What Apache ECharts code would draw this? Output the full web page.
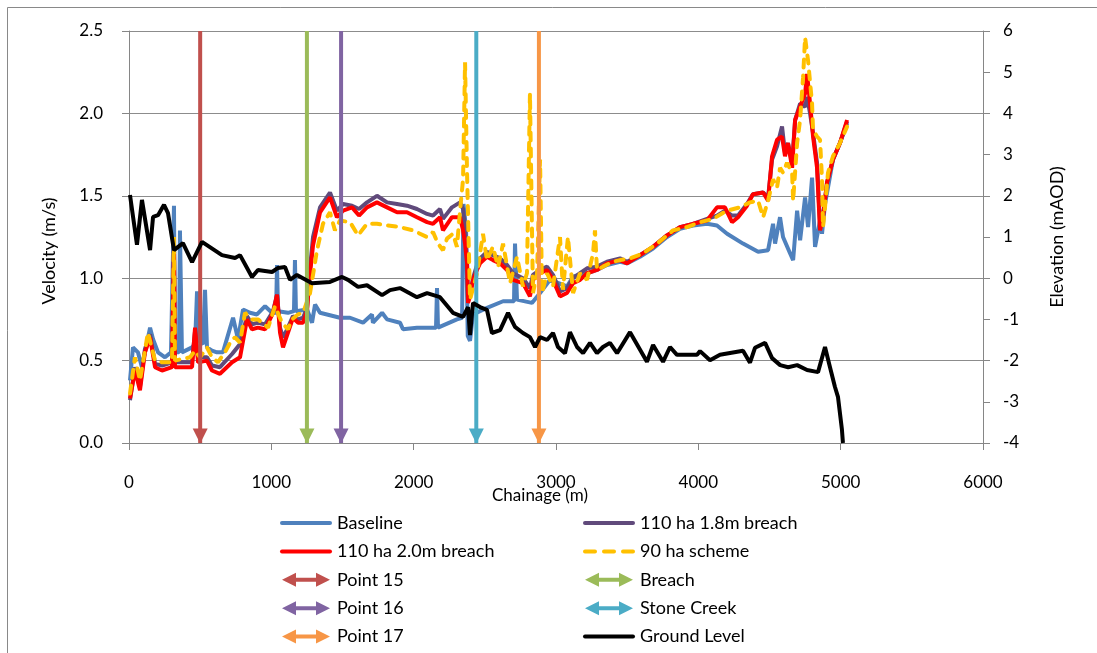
<!DOCTYPE html>
<html><head><meta charset="utf-8">
<script src="https://cdn.jsdelivr.net/npm/echarts@6/dist/echarts.min.js"></script>
<style>html,body{margin:0;padding:0;background:#fff}#c{width:1097px;height:653px}</style>
</head><body><div id="c"></div>
<script>
// ---- data (chainage m, value) ----
const baseline = [[7,0.38],[28,0.58],[63,0.55],[91,0.46],[148,0.70],[169,0.63],[204,0.55],[253,0.52],[295,0.55],[309,0.55],[316,1.44],[323,0.55],[351,0.55],[358,1.29],[372,0.55],[443,0.58],[464,0.60],[478,0.92],[492,0.62],[520,0.60],[534,0.93],[548,0.58],[583,0.56],[618,0.55],[660,0.55],[731,0.76],[766,0.63],[801,0.81],[850,0.79],[899,0.78],[956,0.83],[1005,0.79],[1033,0.79],[1040,1.08],[1047,0.80],[1117,0.79],[1159,0.80],[1166,1.11],[1173,0.80],[1251,0.81],[1286,0.73],[1307,0.84],[1342,0.79],[1391,0.78],[1482,0.76],[1553,0.76],[1644,0.73],[1707,0.78],[1714,0.73],[1778,0.79],[1813,0.75],[1904,0.73],[1925,0.69],[2023,0.70],[2094,0.70],[2157,0.70],[2164,0.94],[2171,0.70],[2304,0.75],[2340,0.76],[2350,1.45],[2368,1.30],[2380,0.65],[2396,0.62],[2417,0.78],[2515,0.82],[2628,0.86],[2705,0.86],[2712,1.21],[2726,0.87],[2831,0.85],[2888,0.91],[2958,0.99],[3077,0.95],[3120,1.01],[3218,1.03],[3288,1.05],[3358,1.08],[3450,1.10],[3499,1.09],[3590,1.13],[3682,1.18],[3780,1.25],[3871,1.30],[3963,1.32],[4061,1.33],[4131,1.32],[4202,1.27],[4314,1.21],[4420,1.16],[4490,1.17],[4525,1.33],[4539,1.21],[4574,1.37],[4595,1.25],[4645,1.15],[4666,1.11],[4694,1.41],[4715,1.23],[4750,1.49],[4771,1.31],[4799,1.61],[4820,1.19],[4855,1.35],[4869,1.27],[4890,1.45],[4946,1.72],[4995,1.82],[5045,1.94]];

const breach18 = [[7,0.26],[42,0.46],[77,0.34],[112,0.57],[148,0.66],[183,0.48],[232,0.47],[302,0.49],[309,0.49],[316,1.20],[323,0.49],[443,0.49],[464,0.68],[485,0.52],[548,0.52],[583,0.47],[639,0.46],[724,0.54],[780,0.60],[829,0.77],[864,0.72],[906,0.73],[956,0.72],[1012,0.80],[1040,0.90],[1061,0.70],[1082,0.64],[1117,0.70],[1152,0.77],[1187,0.75],[1223,0.76],[1251,0.82],[1265,1.00],[1293,1.25],[1342,1.43],[1412,1.52],[1461,1.41],[1504,1.45],[1567,1.44],[1616,1.42],[1672,1.46],[1742,1.50],[1813,1.46],[1883,1.45],[1953,1.44],[2023,1.42],[2094,1.39],[2136,1.38],[2185,1.42],[2206,1.36],[2269,1.43],[2326,1.46],[2347,1.42],[2361,1.30],[2375,1.10],[2382,0.88],[2396,0.90],[2417,1.00],[2445,1.08],[2466,1.12],[2515,1.16],[2557,1.14],[2607,1.12],[2656,1.08],[2698,1.03],[2768,1.00],[2817,0.94],[2838,1.02],[2888,1.05],[2937,1.07],[2979,1.02],[3028,0.92],[3077,0.94],[3120,1.00],[3169,1.03],[3218,1.06],[3288,1.07],[3358,1.10],[3450,1.12],[3499,1.10],[3590,1.14],[3682,1.19],[3780,1.26],[3871,1.31],[3963,1.33],[4061,1.36],[4131,1.38],[4187,1.41],[4237,1.38],[4279,1.38],[4342,1.45],[4384,1.51],[4455,1.52],[4490,1.49],[4518,1.72],[4553,1.80],[4588,1.92],[4609,1.76],[4630,1.82],[4659,1.70],[4680,1.96],[4715,2.06],[4750,2.04],[4764,2.10],[4785,2.00],[4806,1.88],[4834,1.70],[4855,1.32],[4876,1.38],[4904,1.58],[4946,1.72],[4995,1.82],[5045,1.95]];

const breach20 = [[7,0.27],[42,0.44],[77,0.32],[112,0.55],[148,0.64],[183,0.46],[232,0.44],[302,0.46],[309,0.46],[316,1.19],[323,0.46],[443,0.46],[464,0.70],[485,0.49],[548,0.50],[583,0.44],[639,0.42],[724,0.49],[780,0.52],[829,0.75],[864,0.69],[906,0.70],[956,0.69],[1012,0.79],[1040,0.90],[1061,0.67],[1082,0.58],[1117,0.67],[1152,0.76],[1187,0.73],[1223,0.73],[1251,0.80],[1265,0.97],[1293,1.20],[1342,1.40],[1412,1.49],[1461,1.37],[1504,1.41],[1567,1.43],[1616,1.38],[1672,1.43],[1742,1.46],[1813,1.43],[1883,1.40],[1953,1.40],[2023,1.37],[2094,1.34],[2136,1.33],[2185,1.37],[2206,1.29],[2269,1.37],[2326,1.37],[2347,1.29],[2361,1.21],[2375,1.09],[2382,0.85],[2396,0.89],[2417,0.99],[2445,1.05],[2466,1.09],[2515,1.13],[2557,1.11],[2607,1.09],[2656,1.05],[2698,0.99],[2768,0.97],[2817,0.89],[2838,0.99],[2888,1.03],[2937,1.05],[2979,0.99],[3028,0.89],[3077,0.91],[3120,0.97],[3169,0.99],[3218,1.03],[3288,1.05],[3358,1.09],[3450,1.11],[3499,1.09],[3590,1.14],[3682,1.19],[3780,1.26],[3871,1.31],[3963,1.33],[4061,1.35],[4131,1.43],[4187,1.43],[4237,1.34],[4279,1.37],[4342,1.44],[4384,1.51],[4455,1.52],[4490,1.47],[4518,1.74],[4553,1.84],[4588,1.86],[4609,1.74],[4630,1.82],[4659,1.67],[4680,1.96],[4715,2.04],[4750,2.12],[4764,2.24],[4785,2.06],[4806,1.86],[4834,1.67],[4855,1.29],[4876,1.37],[4904,1.58],[4946,1.72],[4995,1.82],[5045,1.96]];

const scheme90 = [[7,0.30],[42,0.52],[77,0.38],[133,0.67],[183,0.50],[232,0.49],[302,0.49],[309,0.49],[316,1.25],[323,0.50],[429,0.52],[464,0.56],[499,0.52],[548,0.58],[583,0.52],[625,0.49],[674,0.55],[724,0.63],[745,0.64],[780,0.61],[815,0.79],[864,0.75],[906,0.75],[977,0.70],[1026,0.83],[1075,0.73],[1117,0.69],[1145,0.75],[1187,0.78],[1223,0.79],[1272,0.91],[1321,1.17],[1363,1.33],[1412,1.40],[1447,1.29],[1482,1.35],[1553,1.34],[1609,1.26],[1672,1.33],[1742,1.33],[1813,1.32],[1904,1.31],[1995,1.29],[2094,1.25],[2136,1.28],[2171,1.21],[2206,1.17],[2234,1.24],[2276,1.27],[2304,1.19],[2326,1.41],[2347,1.60],[2361,2.31],[2375,1.64],[2396,0.87],[2445,1.03],[2487,1.27],[2515,1.11],[2557,1.19],[2593,1.07],[2628,1.21],[2677,0.97],[2726,1.13],[2768,0.95],[2796,1.03],[2817,2.12],[2838,0.91],[2867,1.03],[2888,1.72],[2902,0.91],[2937,1.03],[2979,0.95],[3028,1.25],[3049,0.93],[3084,1.25],[3120,0.91],[3169,1.03],[3218,0.99],[3260,1.15],[3274,1.29],[3288,1.05],[3330,1.07],[3401,1.10],[3450,1.11],[3520,1.12],[3611,1.15],[3710,1.21],[3822,1.29],[3920,1.31],[4012,1.34],[4103,1.36],[4202,1.41],[4293,1.43],[4363,1.46],[4420,1.47],[4455,1.37],[4490,1.47],[4525,1.60],[4553,1.55],[4574,1.67],[4595,1.64],[4623,1.70],[4659,1.64],[4666,1.47],[4694,1.82],[4715,1.96],[4736,2.22],[4750,2.46],[4771,2.32],[4799,2.06],[4806,1.90],[4834,1.86],[4855,1.84],[4869,1.60],[4876,1.31],[4890,1.43],[4911,1.64],[4946,1.74],[4995,1.82],[5045,1.92]];

const groundLevel = [[7,2.02],[56,0.81],[91,1.90],[148,0.68],[169,1.49],[204,1.53],[246,1.78],[274,1.58],[316,0.68],[379,0.85],[443,0.39],[513,0.88],[653,0.56],[745,0.49],[780,0.56],[864,0.03],[906,0.20],[1005,0.15],[1047,0.25],[1096,0.27],[1131,-0.04],[1180,0.08],[1286,-0.12],[1412,-0.09],[1497,0.03],[1539,-0.04],[1609,-0.21],[1672,-0.17],[1778,-0.41],[1834,-0.29],[1904,-0.24],[2023,-0.46],[2094,-0.36],[2185,-0.46],[2276,-0.84],[2347,-0.94],[2382,-0.70],[2396,-1.38],[2417,-0.60],[2466,-0.70],[2515,-0.77],[2550,-1.33],[2607,-1.26],[2663,-0.84],[2712,-1.18],[2768,-1.33],[2817,-1.43],[2853,-1.67],[2888,-1.43],[2937,-1.50],[2979,-1.33],[3014,-1.67],[3063,-1.82],[3098,-1.31],[3148,-1.67],[3190,-1.82],[3239,-1.57],[3288,-1.82],[3330,-1.67],[3379,-1.57],[3429,-1.82],[3520,-1.31],[3639,-2.03],[3682,-1.62],[3752,-2.03],[3801,-1.67],[3850,-1.86],[3991,-1.86],[4012,-1.77],[4082,-1.99],[4152,-1.86],[4314,-1.76],[4363,-2.05],[4398,-1.69],[4469,-1.57],[4518,-1.94],[4575,-2.11],[4631,-2.16],[4694,-2.11],[4764,-2.23],[4841,-2.28],[4890,-1.67],[4925,-2.16],[4960,-2.64],[4981,-2.88],[5009,-3.68],[5016,-4.00]];

const markerNames = ['Point 15','Breach','Point 16','Stone Creek','Point 17'];
const markerChainage = [500,1250,1490,2440,2880];
const markerColors = ['#C0504D','#9BBB59','#8064A2','#4BACC6','#F79646'];

const xTicks = [0,1000,2000,3000,4000,5000,6000];
const velTicks = [0,0.5,1.0,1.5,2.0,2.5];
const elevTicks = [-4,-3,-2,-1,0,1,2,3,4,5,6];

// ---- chart ----
const FONT = 'Lato';
const arrowIcon = 'path://M0,7L14,0L14,5L34,5L34,0L48,7L34,14L34,9L14,9L14,14Z';
const solidIcon = 'path://M2,0H50A2,2,0,0,1,50,4H2A2,2,0,0,1,2,0Z';
const dashIcon = 'path://M2,0H12A2,2,0,0,1,12,4H2A2,2,0,0,1,2,0Z M21,0H31A2,2,0,0,1,31,4H21A2,2,0,0,1,21,0Z M40,0H50A2,2,0,0,1,50,4H40A2,2,0,0,1,40,0Z';
const chart = echarts.init(document.getElementById('c'));
const lineSeries = (name, data, color, extra) => Object.assign({
  name, type:'line', data, symbol:'none', showSymbol:false,
  lineStyle:{color, width:4}, itemStyle:{color},
  emphasis:{disabled:true}, z:2
}, extra||{});

const series = [
  lineSeries('Baseline', baseline, '#4F81BD'),
  lineSeries('110 ha 1.8m breach', breach18, '#604A7B'),
  lineSeries('110 ha 2.0m breach', breach20, '#FF0000'),
  lineSeries('90 ha scheme', scheme90, '#FFC000', {lineStyle:{color:'#FFC000', width:4, type:[8,8], cap:'round'}})
];
markerNames.forEach((n,i)=>{
  series.push({
    name:n, type:'line', symbol:'triangle', symbolSize:[15,15], symbolRotate:180, symbolOffset:[0,-7],
    showSymbol:true, showAllSymbol:true, clip:false,
    data:[{value:[markerChainage[i], velTicks[velTicks.length-1]], symbol:'none'}, [markerChainage[i], velTicks[0]]],
    lineStyle:{color:markerColors[i], width:4}, itemStyle:{color:markerColors[i]},
    emphasis:{disabled:true}, z:3
  });
});
series.push(lineSeries('Ground Level', groundLevel, '#000000', {yAxisIndex:1, z:4}));

const legendBase = {orient:'vertical', top:514, height:170, itemWidth:52, itemHeight:14, itemGap:10.4, padding:0,
  textStyle:{fontFamily:FONT, fontSize:18, color:'#000'}, selectedMode:false};
const iconFor = n => ({name:n, icon: markerNames.includes(n) ? arrowIcon : (n === '90 ha scheme' ? dashIcon : solidIcon)});

chart.setOption({
  animation:false,
  backgroundColor:'#fff',
  grid:{left:129, right:114, top:31, bottom:210, containLabel:false},
  xAxis:{type:'value', min:xTicks[0], max:xTicks[xTicks.length-1], interval:1000,
    axisLine:{lineStyle:{color:'#868686', width:1}},
    axisTick:{show:true, length:7, lineStyle:{color:'#868686'}},
    splitLine:{show:false},
    axisLabel:{margin:31, fontFamily:FONT, fontSize:17, color:'#000', formatter:v=>String(v)}},
  yAxis:[
    {type:'value', min:velTicks[0], max:velTicks[velTicks.length-1], interval:0.5,
      axisLine:{show:true, lineStyle:{color:'#868686'}},
      axisTick:{show:true, length:7, lineStyle:{color:'#868686'}},
      splitLine:{show:true, lineStyle:{color:'#8c8c8c', width:1}},
      axisLabel:{margin:26, fontFamily:FONT, fontSize:17, color:'#000', formatter:v=>v.toFixed(1)}},
    {type:'value', min:elevTicks[0], max:elevTicks[elevTicks.length-1], interval:1, position:'right',
      axisLine:{show:true, lineStyle:{color:'#868686'}},
      axisTick:{show:true, length:7, lineStyle:{color:'#868686'}},
      splitLine:{show:false},
      axisLabel:{margin:20, fontFamily:FONT, fontSize:17, color:'#000', formatter:v=>String(v)}}
  ],
  legend:[
    Object.assign({left:280, data:['Baseline','110 ha 2.0m breach','Point 15','Point 16','Point 17'].map(iconFor)}, legendBase),
    Object.assign({left:583, data:['110 ha 1.8m breach','90 ha scheme','Breach','Stone Creek','Ground Level'].map(iconFor)}, legendBase)
  ],
  graphic:[
    {type:'rect', shape:{x:7.5, y:7.5, width:1095, height:700}, style:{fill:'none', stroke:'#898989', lineWidth:1}, silent:true},
    {type:'text', x:49, y:251, rotation:Math.PI/2, style:{text:'Velocity (m/s)', fontFamily:FONT, fontSize:18, fill:'#000', align:'center', verticalAlign:'middle'}},
    {type:'text', x:1057, y:237, rotation:Math.PI/2, style:{text:'Elevation (mAOD)', fontFamily:FONT, fontSize:18, fill:'#000', align:'center', verticalAlign:'middle'}},
    {type:'text', x:540, y:496, style:{text:'Chainage (m)', fontFamily:FONT, fontSize:17, fill:'#000', align:'center', verticalAlign:'middle'}}
  ],
  series
});
</script></body></html>
